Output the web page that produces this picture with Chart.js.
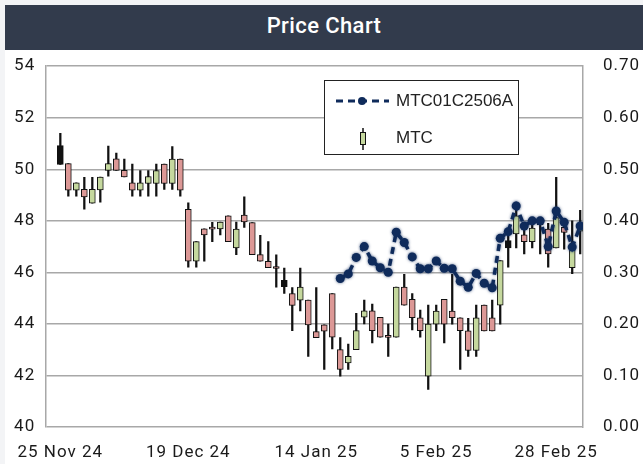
<!DOCTYPE html>
<html>
<head>
<meta charset="utf-8">
<script src="https://cdn.jsdelivr.net/npm/chart.js@4.4.1/dist/chart.umd.min.js"></script>
<style>
  html, body { margin: 0; padding: 0; background: #f3f4f6; }
  body { width: 643px; height: 464px; position: relative; overflow: hidden; }
  #title {
    position: absolute; left: 5px; top: 5px; width: 638px; height: 45px; z-index: 2;
    background: #323b4c; color: #fff; text-align: center;
    font: 500 22px Roboto, sans-serif; line-height: 42px; letter-spacing: 0.4px;
  }
  #wrap { position: absolute; left: 5px; top: 36px; width: 638px; height: 428px; background: #fff; z-index: 1; }
</style>
</head>
<body>
<div id="title">Price Chart</div>
<div id="wrap"><canvas id="chart" width="638" height="428"></canvas></div>
<script>
// Trading days shown on the x axis (one per candle)
const categories = [
  '25 Nov 24', '26 Nov 24', '27 Nov 24', '28 Nov 24', '29 Nov 24', '2 Dec 24', '3 Dec 24', '4 Dec 24', '6 Dec 24', '9 Dec 24',
  '11 Dec 24', '12 Dec 24', '13 Dec 24', '16 Dec 24', '17 Dec 24', '18 Dec 24', '19 Dec 24', '20 Dec 24', '23 Dec 24', '24 Dec 24',
  '25 Dec 24', '26 Dec 24', '27 Dec 24', '30 Dec 24', '2 Jan 25', '3 Jan 25', '6 Jan 25', '7 Jan 25', '8 Jan 25', '9 Jan 25',
  '10 Jan 25', '13 Jan 25', '14 Jan 25', '15 Jan 25', '16 Jan 25', '17 Jan 25', '20 Jan 25', '21 Jan 25', '22 Jan 25', '23 Jan 25',
  '24 Jan 25', '27 Jan 25', '28 Jan 25', '29 Jan 25', '30 Jan 25', '31 Jan 25', '3 Feb 25', '5 Feb 25', '6 Feb 25', '7 Feb 25',
  '10 Feb 25', '11 Feb 25', '13 Feb 25', '14 Feb 25', '17 Feb 25', '18 Feb 25', '19 Feb 25', '20 Feb 25', '21 Feb 25', '24 Feb 25',
  '25 Feb 25', '27 Feb 25', '28 Feb 25', '3 Mar 25', '4 Mar 25', '5 Mar 25'
];
const xTickIdx = [0, 16, 32, 47, 62];

// MTC candles
const opens = [
  50.92, 50.22, 49.19, 49.22, 48.69, 49.2, 49.96, 50.41, 49.96, 49.47,
  49.19, 49.45, 49.45, 50.2, 49.45, 50.4, 48.45, 46.43, 47.69, 47.7,
  47.69, 48.19, 46.95, 48.22, 47.93, 46.69, 46.43, 46.17, 45.69, 45.18,
  44.92, 44.92, 43.7, 43.96, 45.18, 43.0, 42.49, 43.0, 44.26, 44.51,
  44.26, 43.5, 43.49, 45.43, 44.95, 44.24, 41.97, 43.99, 44.95, 44.5,
  44.24, 43.73, 42.97, 44.73, 44.24, 44.73, 47.23, 47.49, 47.46, 47.19,
  47.95, 47.68, 46.95, 47.75, 46.18, 47.6
];
const highs = [
  51.4, 50.22, 49.47, 49.69, 49.69, 49.7, 50.9, 50.63, 50.4, 50.2,
  49.95, 49.95, 50.2, 50.2, 50.88, 50.4, 48.7, 47.19, 47.69, 47.94,
  47.95, 48.19, 47.95, 48.93, 47.93, 47.44, 47.19, 46.68, 46.17, 45.41,
  46.17, 44.92, 45.41, 43.96, 45.18, 43.47, 43.22, 44.41, 44.92, 44.77,
  44.26, 43.99, 45.43, 45.92, 45.18, 44.54, 44.73, 44.73, 44.95, 45.92,
  44.24, 44.22, 44.73, 44.73, 44.92, 46.46, 47.42, 48.51, 47.93, 48.03,
  48.0, 47.9, 49.69, 48.0, 48.0, 48.41
];
const lows = [
  50.19, 48.96, 48.96, 48.45, 48.69, 48.72, 49.73, 49.96, 49.7, 48.96,
  48.96, 48.96, 48.96, 49.22, 49.22, 48.96, 46.2, 46.2, 46.43, 47.19,
  47.45, 47.19, 46.69, 47.74, 46.69, 46.43, 46.18, 45.43, 45.18, 43.74,
  44.5, 42.74, 43.47, 42.23, 43.03, 41.97, 42.23, 43.0, 44.0, 43.26,
  43.49, 42.74, 43.49, 44.73, 43.77, 43.49, 41.46, 43.74, 43.26, 43.99,
  42.23, 42.74, 42.74, 43.73, 43.73, 43.99, 46.2, 46.95, 46.72, 46.95,
  46.72, 46.2, 46.95, 46.9, 45.95, 46.72
];
const closes = [
  50.19, 49.19, 49.47, 48.93, 49.22, 49.7, 50.22, 49.96, 49.7, 49.19,
  49.47, 49.72, 49.95, 49.45, 50.4, 49.19, 46.43, 47.19, 47.45, 47.68,
  47.95, 47.19, 47.68, 47.96, 46.69, 46.43, 46.18, 46.15, 45.45, 44.72,
  45.43, 43.96, 43.47, 43.72, 43.49, 42.23, 42.74, 43.74, 44.51, 43.74,
  43.49, 43.48, 45.43, 44.73, 44.24, 43.74, 43.99, 44.5, 43.99, 44.24,
  43.74, 42.97, 44.24, 43.73, 43.73, 46.46, 46.95, 48.19, 47.19, 47.72,
  47.85, 46.72, 48.13, 47.55, 47.04, 47.9
];
// candles drawn with a solid dark body in the source
const darkBodies = [0, 28, 56];

// MTC01C2506A warrant (right axis), starts at candle 35
const optionStart = 35;
const optionValues = [
  0.288, 0.297, 0.329, 0.35, 0.322, 0.309, 0.30, 0.378, 0.358, 0.33,
  0.307, 0.307, 0.322, 0.308, 0.307, 0.283, 0.271, 0.298, 0.279, 0.270,
  0.366, 0.379, 0.429, 0.39, 0.40, 0.40, 0.35, 0.419, 0.397, 0.349, 0.39
];

const UP = '#c5d89e';
const DOWN = '#dc9896';
const NAVY = '#0f2b5b';
const GRID = '#a8a8a8';
const tickFont = { family: 'Roboto', size: 17 };

var bodyData = categories.map(function (_, i) { return { x: i, y: [opens[i], closes[i]] }; });
var wickData = categories.map(function (_, i) { return { x: i, y: [lows[i], highs[i]] }; });
var bodyColors = categories.map(function (_, i) {
  if (darkBodies.indexOf(i) >= 0) return '#111';
  return closes[i] >= opens[i] ? UP : DOWN;
});
var optionData = optionValues.map(function (v, k) { return { x: optionStart + k, y: v }; });

// wider tracking for the axis labels
const tickSpacing = {
  id: 'tickSpacing',
  beforeDraw(chart) { chart.ctx.letterSpacing = '1px'; },
};

// soft halo on the dashed warrant line
const softLine = {
  id: 'softLine',
  beforeDatasetDraw(chart, args) {
    if (args.index !== 0) return;
    chart.ctx.save();
    chart.ctx.shadowColor = 'rgba(15,43,91,0.7)';
    chart.ctx.shadowBlur = 3;
  },
  afterDatasetDraw(chart, args) {
    if (args.index === 0) chart.ctx.restore();
  },
};

// boxed legend inside the plot
const boxLegend = {
  id: 'boxLegend',
  afterDraw(chart) {
    var ctx = chart.ctx;
    var oy = 14;
    ctx.save();
    ctx.letterSpacing = '0px';
    ctx.fillStyle = '#fff';
    ctx.fillRect(319, 30 + oy, 194, 74);
    ctx.strokeStyle = '#222';
    ctx.lineWidth = 1;
    ctx.strokeRect(319.5, 30.5 + oy, 194, 74);

    // line entry
    ctx.strokeStyle = NAVY;
    ctx.lineWidth = 3;
    ctx.setLineDash([7, 5]);
    ctx.beginPath();
    ctx.moveTo(331, 51 + oy);
    ctx.lineTo(384, 51 + oy);
    ctx.stroke();
    ctx.setLineDash([]);
    ctx.fillStyle = NAVY;
    ctx.beginPath();
    ctx.arc(357, 51 + oy, 4, 0, Math.PI * 2);
    ctx.fill();

    // candle entry
    ctx.strokeStyle = '#111';
    ctx.lineWidth = 1.5;
    ctx.beginPath();
    ctx.moveTo(358, 78 + oy);
    ctx.lineTo(358, 100 + oy);
    ctx.stroke();
    ctx.fillStyle = UP;
    ctx.fillRect(355.5, 82.5 + oy, 5, 12);
    ctx.lineWidth = 1;
    ctx.strokeRect(355.5, 82.5 + oy, 5, 12);

    ctx.fillStyle = '#222';
    ctx.font = '17px "Liberation Sans", Arial, sans-serif';
    ctx.textBaseline = 'middle';
    ctx.fillText('MTC01C2506A', 391, 51 + oy);
    ctx.fillText('MTC', 391, 88 + oy);
    ctx.restore();
  },
};

new Chart(document.getElementById('chart'), {
  type: 'bar',
  data: {
    datasets: [
      {
        type: 'line',
        label: 'MTC01C2506A',
        data: optionData,
        yAxisID: 'y2',
        borderColor: NAVY,
        borderWidth: 3.5,
        borderDash: [7, 5],
        pointRadius: 4.5,
        pointBackgroundColor: NAVY,
        pointBorderWidth: 0,
        tension: 0,
        order: 0,
      },
      {
        label: 'MTC',
        data: bodyData,
        yAxisID: 'y',
        backgroundColor: bodyColors,
        borderColor: '#111',
        borderWidth: 1,
        borderSkipped: false,
        barThickness: 6,
        minBarLength: 2,
        grouped: false,
        order: 1,
      },
      {
        label: 'wick',
        data: wickData,
        yAxisID: 'y',
        backgroundColor: '#111',
        borderWidth: 0,
        barThickness: 1.6,
        grouped: false,
        order: 2,
      },
    ],
  },
  options: {
    responsive: false,
    animation: false,
    layout: { padding: { left: 7, right: 0, top: 0, bottom: 0 } },
    plugins: { legend: { display: false }, tooltip: { enabled: false } },
    scales: {
      x: {
        type: 'linear',
        position: 'bottom',
        offset: false,
        min: -1.78,
        max: 65.35,
        grid: { display: false, drawTicks: false },
        border: { display: false },
        afterBuildTicks: function (axis) { axis.ticks = xTickIdx.map(function (v) { return { value: v }; }); },
        afterFit: function (axis) { axis.height = 37; },
        ticks: {
          autoSkip: false, maxRotation: 0, minRotation: 0, padding: 16,
          color: '#1a1a1a', font: tickFont,
          callback: function (v) { return categories[v]; },
        },
      },
      y: {
        position: 'left',
        min: 40,
        max: 54,
        afterFit: function (axis) { axis.width = 32; },
        grid: { color: GRID, lineWidth: 1.5, drawTicks: false },
        border: { display: true, color: GRID, width: 1.5 },
        ticks: { stepSize: 2, crossAlign: 'far', padding: 0, color: '#1a1a1a', font: tickFont },
      },
      y2: {
        position: 'right',
        min: 0,
        max: 0.7,
        afterFit: function (axis) { axis.width = 60; },
        grid: { display: false, drawTicks: false },
        border: { display: true, color: GRID, width: 1.5 },
        ticks: {
          stepSize: 0.1, padding: 20, color: '#1a1a1a', font: tickFont,
          callback: function (v) { return v.toFixed(2); },
        },
      },
    },
  },
  plugins: [tickSpacing, softLine, boxLegend],
});
</script>
</body>
</html>
